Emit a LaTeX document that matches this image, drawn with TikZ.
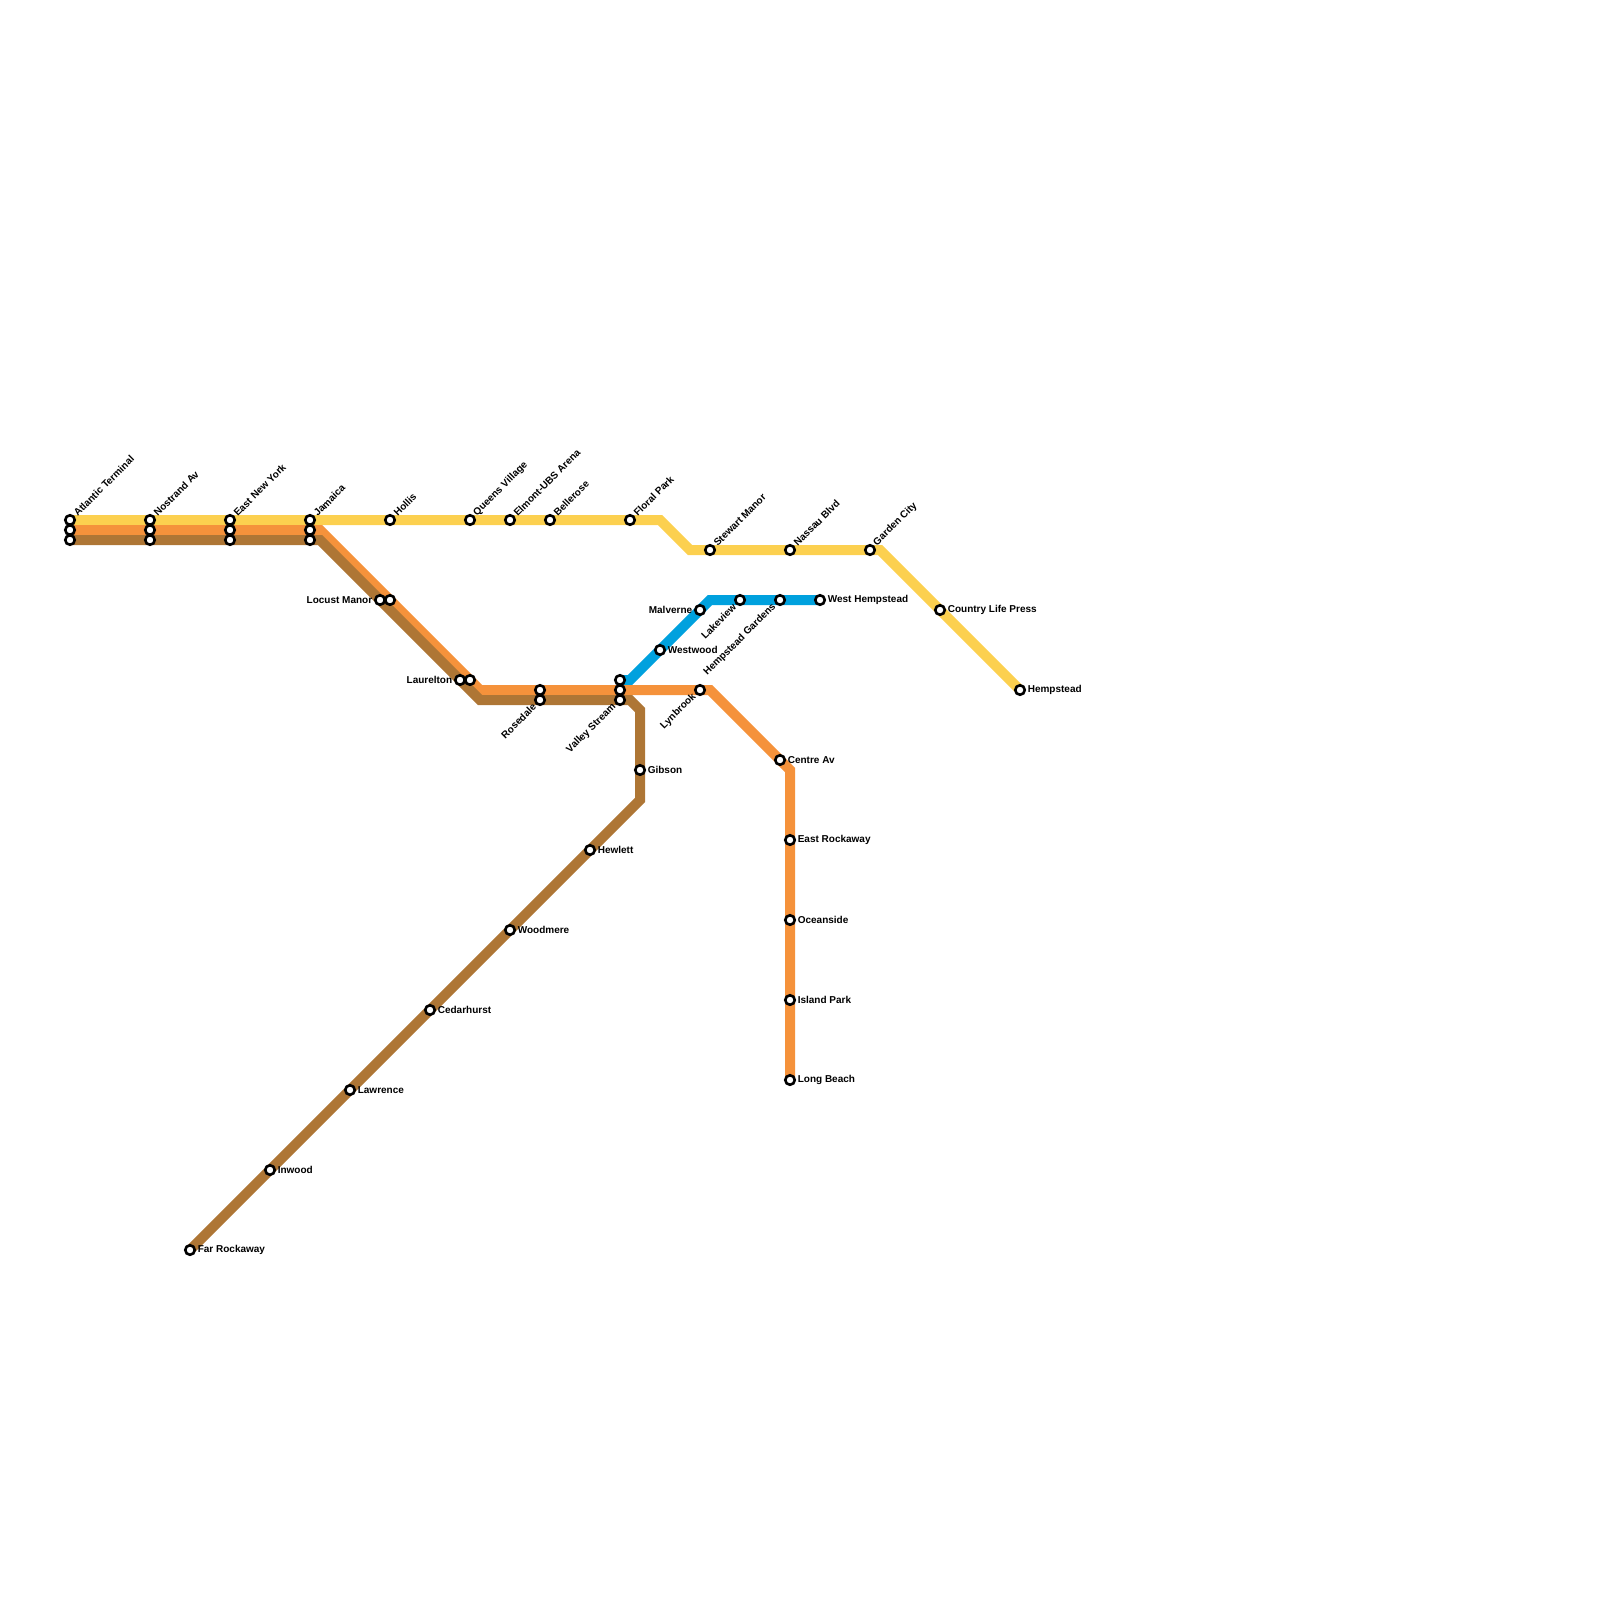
\documentclass[tikz,border=0pt]{standalone}
\usepackage{fontspec}
\setmainfont{Liberation Sans}
\usepackage{xcolor}
\usetikzlibrary{backgrounds}
\definecolor{railyellow}{HTML}{FCD04F}
\definecolor{railorange}{HTML}{F5923B}
\definecolor{railbrown}{HTML}{AE7635}
\definecolor{railblue}{HTML}{00A1DE}
\tikzset{
  stop/.style={circle, draw=black, fill=white, line width=1.3pt, minimum size=4.75pt, inner sep=0pt},
  rail/.style={line width=5pt},
  stopname/.style={font=\fontsize{5}{6}\selectfont\bfseries, inner sep=0pt, text=black},
  nameright/.style={stopname, anchor=west, xshift=3.7pt, yshift=0.1pt},
  nameleft/.style={stopname, anchor=east, xshift=-3.7pt, yshift=0.1pt},
  nameup/.style={stopname, anchor=west, rotate=45, xshift=3.7pt, yshift=0.1pt},
  namedown/.style={stopname, anchor=east, rotate=45, xshift=-3.7pt, yshift=0.1pt}
}
\begin{document}
\begin{tikzpicture}[x=0.5pt, y=-0.5pt]
  \useasboundingbox (0,0) rectangle (1600,1600);
  % Stops on the trunk
  \node[stop] (atlanticY) at (70,520) {};
  \node[stop] (atlanticO) at (70,530) {};
  \node[stop] (atlanticB) at (70,540) {};
  \node[stop] (nostrandY) at (150,520) {};
  \node[stop] (nostrandO) at (150,530) {};
  \node[stop] (nostrandB) at (150,540) {};
  \node[stop] (enyY) at (230,520) {};
  \node[stop] (enyO) at (230,530) {};
  \node[stop] (enyB) at (230,540) {};
  \node[stop] (jamaicaY) at (310,520) {};
  \node[stop] (jamaicaO) at (310,530) {};
  \node[stop] (jamaicaB) at (310,540) {};
  % Stops on the yellow line
  \node[stop] (hollis) at (390,520) {};
  \node[stop] (queens) at (470,520) {};
  \node[stop] (elmont) at (510,520) {};
  \node[stop] (bellerose) at (550,520) {};
  \node[stop] (floral) at (630,520) {};
  \node[stop] (stewart) at (710,550) {};
  \node[stop] (nassau) at (790,550) {};
  \node[stop] (garden) at (870,550) {};
  \node[stop] (country) at (940,610) {};
  \node[stop] (hempstead) at (1020,690) {};
  % Stops shared by orange and brown
  \node[stop] (locustB) at (380,600) {};
  \node[stop] (locustO) at (390,600) {};
  \node[stop] (laureltonB) at (460,680) {};
  \node[stop] (laureltonO) at (470,680) {};
  \node[stop] (rosedaleO) at (540,690) {};
  \node[stop] (rosedaleB) at (540,700) {};
  \node[stop] (valleyA) at (620,680) {};
  \node[stop] (valleyO) at (620,690) {};
  \node[stop] (valleyB) at (620,700) {};
  % Stops on the orange line
  \node[stop] (lynbrook) at (700,690) {};
  \node[stop] (centre) at (780,760) {};
  \node[stop] (rockaway) at (790,840) {};
  \node[stop] (oceanside) at (790,920) {};
  \node[stop] (island) at (790,1000) {};
  \node[stop] (long) at (790,1080) {};
  % Stops on the blue line
  \node[stop] (westwood) at (660,650) {};
  \node[stop] (malverne) at (700,610) {};
  \node[stop] (lakeview) at (740,600) {};
  \node[stop] (gardens) at (780,600) {};
  \node[stop] (west) at (820,600) {};
  % Stops on the brown line
  \node[stop] (gibson) at (640,770) {};
  \node[stop] (hewlett) at (590,850) {};
  \node[stop] (woodmere) at (510,930) {};
  \node[stop] (cedarhurst) at (430,1010) {};
  \node[stop] (lawrence) at (350,1090) {};
  \node[stop] (inwood) at (270,1170) {};
  \node[stop] (far) at (190,1250) {};
  % Bends
  \coordinate (yellowA) at (660,520);
  \coordinate (yellowB) at (690,550);
  \coordinate (yellowC) at (880,550);
  \coordinate (orangeA) at (320,530);
  \coordinate (orangeB) at (480,690);
  \coordinate (orangeC) at (710,690);
  \coordinate (orangeD) at (790,770);
  \coordinate (brownA) at (320,540);
  \coordinate (brownB) at (480,700);
  \coordinate (brownC) at (630,700);
  \coordinate (brownD) at (640,710);
  \coordinate (brownE) at (640,800);
  \coordinate (blueA) at (630,680);
  \coordinate (blueB) at (710,600);
  % Lines
  \begin{scope}[on background layer]
    \draw[rail, railyellow] (atlanticY.center) -- (floral.center) -- (yellowA) -- (yellowB) -- (yellowC) -- (hempstead.center);
    \draw[rail, railblue] (valleyA.center) -- (blueA) -- (blueB) -- (west.center);
    \draw[rail, railorange] (atlanticO.center) -- (orangeA) -- (orangeB) -- (orangeC) -- (orangeD) -- (long.center);
    \draw[rail, railbrown] (atlanticB.center) -- (brownA) -- (brownB) -- (brownC) -- (brownD) -- (brownE) -- (far.center);
  \end{scope}
  % Names going up
  \node[nameup] (atlanticT) at (atlanticY) {Atlantic Terminal};
  \node[nameup] (nostrandT) at (nostrandY) {Nostrand Av};
  \node[nameup] (enyT) at (enyY) {East New York};
  \node[nameup] (jamaicaT) at (jamaicaY) {Jamaica};
  \node[nameup] (hollisT) at (hollis) {Hollis};
  \node[nameup] (queensT) at (queens) {Queens Village};
  \node[nameup] (elmontT) at (elmont) {Elmont-UBS Arena};
  \node[nameup] (belleroseT) at (bellerose) {Bellerose};
  \node[nameup] (floralT) at (floral) {Floral Park};
  \node[nameup] (stewartT) at (stewart) {Stewart Manor};
  \node[nameup] (nassauT) at (nassau) {Nassau Blvd};
  \node[nameup] (gardenT) at (garden) {Garden City};
  % Names going down
  \node[namedown] (rosedaleT) at (rosedaleB) {Rosedale};
  \node[namedown] (valleyT) at (valleyB) {Valley Stream};
  \node[namedown] (lynbrookT) at (lynbrook) {Lynbrook};
  \node[namedown] (lakeviewT) at (lakeview) {Lakeview};
  \node[namedown] (gardensT) at (gardens) {Hempstead Gardens};
  % Names on the left
  \node[nameleft] (locustT) at (locustB) {Locust Manor};
  \node[nameleft] (laureltonT) at (laureltonB) {Laurelton};
  \node[nameleft] (malverneT) at (malverne) {Malverne};
  % Names on the right
  \node[nameright] (countryT) at (country) {Country Life Press};
  \node[nameright] (hempsteadT) at (hempstead) {Hempstead};
  \node[nameright] (westT) at (west) {West Hempstead};
  \node[nameright] (westwoodT) at (westwood) {Westwood};
  \node[nameright] (centreT) at (centre) {Centre Av};
  \node[nameright] (rockawayT) at (rockaway) {East Rockaway};
  \node[nameright] (oceansideT) at (oceanside) {Oceanside};
  \node[nameright] (islandT) at (island) {Island Park};
  \node[nameright] (longT) at (long) {Long Beach};
  \node[nameright] (gibsonT) at (gibson) {Gibson};
  \node[nameright] (hewlettT) at (hewlett) {Hewlett};
  \node[nameright] (woodmereT) at (woodmere) {Woodmere};
  \node[nameright] (cedarhurstT) at (cedarhurst) {Cedarhurst};
  \node[nameright] (lawrenceT) at (lawrence) {Lawrence};
  \node[nameright] (inwoodT) at (inwood) {Inwood};
  \node[nameright] (farT) at (far) {Far Rockaway};
\end{tikzpicture}
\end{document}
